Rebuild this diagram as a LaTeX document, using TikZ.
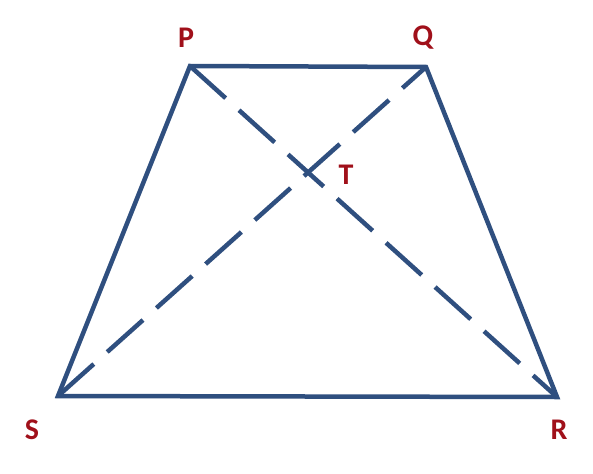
\documentclass[tikz,border=0pt]{standalone}
\usepackage{fontspec}
\setmainfont{Carlito}
\definecolor{edgeblue}{HTML}{2F4F7F}
\definecolor{labred}{HTML}{A0101A}
\begin{document}
\begin{tikzpicture}[x=1pt,y=-1pt,
  side/.style={draw=edgeblue,line width=4.5pt,line join=miter},
  diag/.style={draw=edgeblue,line width=4.5pt,dash pattern=on 48pt off 18pt},
  lab/.style={text=labred,font=\fontsize{30}{33}\selectfont\bfseries,inner sep=0pt}]
\useasboundingbox (0,0) rectangle (593,473);
\coordinate (P) at (190,66);
\coordinate (Q) at (426,67);
\coordinate (R) at (557,397);
\coordinate (S) at (58,396);
\draw[diag] (P) -- (R);
\draw[diag] (S) -- (Q);
\draw[side] (P) -- (Q) -- (R) -- (S) -- cycle;
\node[lab] (lP) at (186,38) {P};
\node[lab] (lQ) at (423,38) {Q};
\node[lab] (lT) at (346,175) {T};
\node[lab] (lS) at (32,430) {S};
\node[lab] (lR) at (559,430) {R};
\end{tikzpicture}
\end{document}
